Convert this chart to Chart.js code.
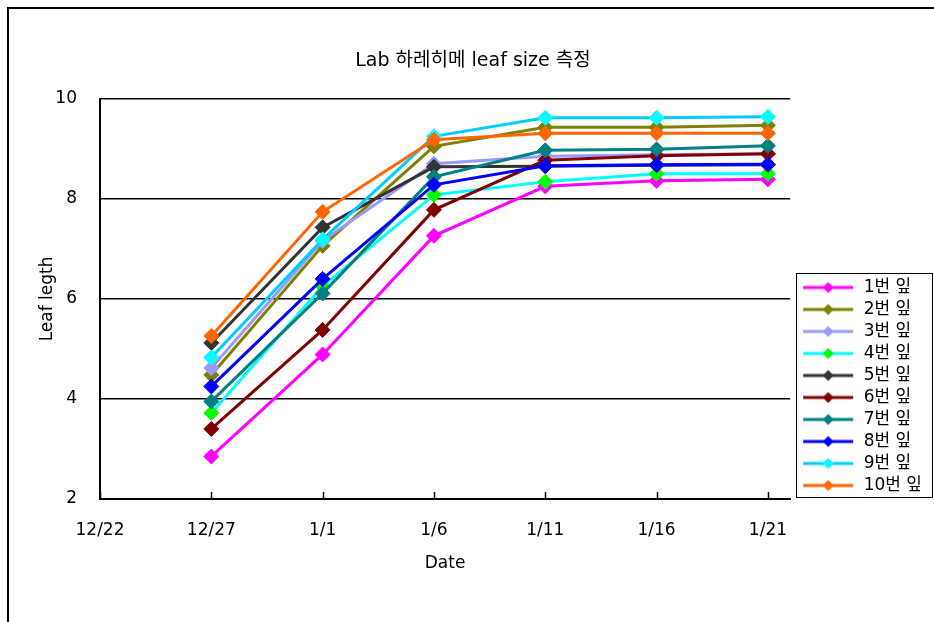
<!DOCTYPE html>
<html>
<head>
<meta charset="utf-8">
<title>Lab 하레히메 leaf size 측정</title>
<script src="https://cdn.jsdelivr.net/npm/chart.js@4"></script>
<style>
  html, body { margin: 0; padding: 0; background: #fff; }
  canvas { display: block; }
</style>
</head>
<body>
<canvas id="leafChart" width="934" height="622"></canvas>
<script>
// x axis: days counted from 12/22
const tickDays = [0, 5, 10, 15, 20, 25, 30];
const tickLabels = ["12/22", "12/27", "1/1", "1/6", "1/11", "1/16", "1/21"];
const sampleDays = [5, 10, 15, 20, 25, 30];
const yTicks = [2, 4, 6, 8, 10];

const leafNames = ["1번 잎", "2번 잎", "3번 잎", "4번 잎", "5번 잎",
                   "6번 잎", "7번 잎", "8번 잎", "9번 잎", "10번 잎"];

// leaf length per measuring day
const leaf1  = [2.85, 4.89, 7.26, 8.25, 8.36, 8.39];
const leaf2  = [4.48, 7.06, 9.05, 9.43, 9.43, 9.47];
const leaf3  = [4.62, 7.16, 8.70, 8.85, 8.88, 8.90];
const leaf4  = [3.72, 6.25, 8.08, 8.34, 8.50, 8.50];
const leaf5  = [5.12, 7.43, 8.64, 8.65, 8.67, 8.68];
const leaf6  = [3.40, 5.38, 7.78, 8.77, 8.86, 8.90];
const leaf7  = [3.95, 6.11, 8.44, 8.97, 8.99, 9.06];
const leaf8  = [4.25, 6.40, 8.28, 8.66, 8.68, 8.69];
const leaf9  = [4.83, 7.19, 9.25, 9.62, 9.62, 9.64];
const leaf10 = [5.26, 7.74, 9.18, 9.31, 9.31, 9.31];
const allLeaves = [leaf1, leaf2, leaf3, leaf4, leaf5, leaf6, leaf7, leaf8, leaf9, leaf10];

const lineColors   = ["#FF00FF", "#808000", "#9999FF", "#00FFFF", "#333333",
                      "#800000", "#008080", "#0000FF", "#00CCFF", "#FF6600"];
const markerColors = ["#FF00FF", "#808000", "#9999FF", "#00FF00", "#333333",
                      "#800000", "#008080", "#0000FF", "#00FFFF", "#FF6600"];

const FONT = '"DejaVu Sans", "Noto Sans CJK KR", sans-serif';

// little line + diamond sample used in the legend
function legendSwatch(lineColor, markColor) {
  const c = document.createElement("canvas");
  c.width = 60;
  c.height = 14;
  const g = c.getContext("2d");
  g.strokeStyle = lineColor;
  g.lineWidth = 3;
  g.beginPath();
  g.moveTo(8, 7);
  g.lineTo(58, 7);
  g.stroke();
  g.fillStyle = markColor;
  g.beginPath();
  g.moveTo(33, 1.5);
  g.lineTo(38.5, 7);
  g.lineTo(33, 12.5);
  g.lineTo(27.5, 7);
  g.closePath();
  g.fill();
  return c;
}

const datasets = allLeaves.map((vals, i) => ({
  label: leafNames[i],
  data: vals.map((v, j) => ({ x: sampleDays[j], y: v })),
  borderColor: lineColors[i],
  backgroundColor: markerColors[i],
  pointBackgroundColor: markerColors[i],
  pointBorderColor: markerColors[i],
  pointBorderWidth: 1,
  pointStyle: "rectRot",
  pointRadius: 7.5,
  borderWidth: 3,
  tension: 0,
  order: allLeaves.length - i   // later series on top, like the original
}));

const framePlugin = {
  id: "frame",
  beforeDraw(chart) {
    const ctx = chart.ctx;
    ctx.save();
    ctx.fillStyle = "#fff";
    ctx.fillRect(0, 0, chart.width, chart.height);
    ctx.strokeStyle = "#000";
    ctx.lineWidth = 2;
    ctx.beginPath();
    ctx.moveTo(8, chart.height);
    ctx.lineTo(8, 8);
    ctx.lineTo(chart.width, 8);
    ctx.stroke();
    ctx.restore();
  }
};

// short tick marks pointing into the plot on the date axis
const innerTicksPlugin = {
  id: "innerTicks",
  beforeDatasetsDraw(chart) {
    const ctx = chart.ctx;
    const xs = chart.scales.x;
    const bottom = chart.chartArea.bottom;
    ctx.save();
    ctx.strokeStyle = "#000";
    ctx.lineWidth = 1.5;
    tickDays.forEach(d => {
      const px = Math.round(xs.getPixelForValue(d)) + 0.5;
      ctx.beginPath();
      ctx.moveTo(px, bottom);
      ctx.lineTo(px, bottom - 7);
      ctx.stroke();
    });
    ctx.restore();
  }
};

const legendBoxPlugin = {
  id: "legendBox",
  afterDraw(chart) {
    const boxes = chart.legend && chart.legend.legendHitBoxes;
    if (!boxes || !boxes.length) return;
    const top = Math.min(...boxes.map(b => b.top)) - 6;
    const bottom = Math.max(...boxes.map(b => b.top + b.height)) + 3;
    const left = Math.min(...boxes.map(b => b.left)) + 1;
    const right = chart.width - 2;
    const ctx = chart.ctx;
    ctx.save();
    ctx.strokeStyle = "#000";
    ctx.lineWidth = 1;
    ctx.strokeRect(Math.round(left) + 0.5, Math.round(top) + 0.5,
                   Math.round(right - left), Math.round(bottom - top));
    ctx.restore();
  }
};

new Chart(document.getElementById("leafChart"), {
  type: "line",
  data: { datasets },
  plugins: [framePlugin, innerTicksPlugin, legendBoxPlugin],
  options: {
    responsive: false,
    animation: false,
    layout: { padding: { top: 10, left: 14, right: 2, bottom: 48 } },
    plugins: {
      title: {
        display: true,
        text: "Lab 하레히메 leaf size 측정",
        color: "#000",
        font: { family: FONT, size: 19, weight: "normal" },
        padding: { top: 40, bottom: 26 }
      },
      legend: {
        position: "right",
        align: "end",
        fullSize: false,
        labels: {
          color: "#000",
          font: { family: FONT, size: 17 },
          usePointStyle: true,
          pointStyleWidth: 60,
          padding: 5,
          generateLabels(chart) {
            return chart.data.datasets.map((ds, i) => ({
              text: ds.label,
              pointStyle: legendSwatch(lineColors[i], markerColors[i]),
              fillStyle: markerColors[i],
              strokeStyle: lineColors[i],
              lineWidth: 0,
              fontColor: "#000",
              hidden: false,
              datasetIndex: i
            }));
          }
        }
      },
      tooltip: { enabled: false }
    },
    scales: {
      x: {
        type: "linear",
        min: 0,
        max: 31,
        afterBuildTicks(scale) {
          scale.ticks = tickDays.map(v => ({ value: v }));
        },
        afterFit(scale) {
          scale.height = 75;
        },
        ticks: {
          color: "#000",
          font: { family: FONT, size: 17 },
          padding: 21,
          maxRotation: 0,
          autoSkip: false,
          callback: (v) => tickLabels[tickDays.indexOf(v)]
        },
        grid: { drawOnChartArea: false, drawTicks: false },
        border: { color: "#000", width: 2 },
        title: {
          display: true,
          text: "Date",
          color: "#000",
          font: { family: FONT, size: 17 },
          padding: { top: 0, bottom: 0 }
        }
      },
      y: {
        min: 2,
        max: 10,
        afterBuildTicks(scale) {
          scale.ticks = yTicks.map(v => ({ value: v }));
        },
        afterFit(scale) {
          scale.width = 86;
        },
        ticks: {
          color: "#000",
          font: { family: FONT, size: 17 },
          padding: 23
        },
        grid: { color: "#000", lineWidth: 1.5, drawTicks: false },
        border: { color: "#000", width: 2 },
        title: {
          display: true,
          text: "Leaf legth",
          color: "#000",
          font: { family: FONT, size: 17 },
          padding: { top: 23, bottom: 0 }
        }
      }
    }
  }
});
</script>
</body>
</html>
